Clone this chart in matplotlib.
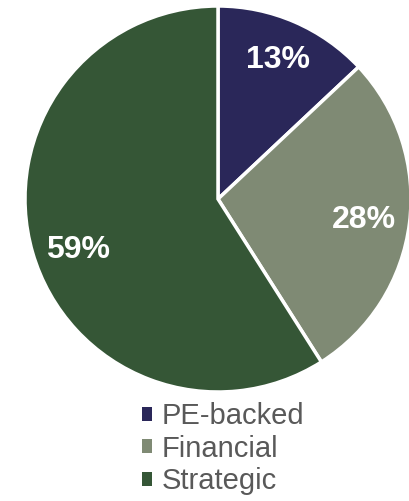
import matplotlib.pyplot as plt

# deal share by buyer type
labels = ['PE-backed', 'Financial', 'Strategic']
shares = [13, 28, 59]
colors = ['#2A2759', '#7F8A74', '#355636']
# where each percentage sits inside its slice
label_xy = [(278, 441), (364, 281), (78, 251)]

plt.rcParams['font.family'] = ['Liberation Sans', 'DejaVu Sans']

fig = plt.figure(figsize=(4.10, 5.01), dpi=100)
ax = fig.add_axes([0, 0, 1, 1])

wedges, texts, autotexts = ax.pie(
    shares, colors=colors, startangle=90, counterclock=False,
    center=(218, 302), radius=193, frame=True,
    autopct='%.0f%%', pctdistance=0.75,
    wedgeprops=dict(edgecolor='white', linewidth=2.5),
    textprops=dict(color='white', fontsize=23, fontweight='bold'))
for t, xy in zip(autotexts, label_xy):
    t.set_position(xy)

ax.set_xlim(0, 410)
ax.set_ylim(0, 501)
ax.set_aspect('equal')
ax.axis('off')

leg = ax.legend(wedges, labels, loc='upper left', bbox_to_anchor=(142 / 410, 1 - 402 / 501),
                bbox_transform=fig.transFigure, frameon=False,
                fontsize=21, labelcolor='#595959',
                handlelength=0.36, handleheight=0.36, handletextpad=0.3,
                labelspacing=0.16, borderpad=0, borderaxespad=0)
for h in leg.legend_handles:
    h.set_edgecolor('none')

plt.savefig('out.png', dpi=100)
